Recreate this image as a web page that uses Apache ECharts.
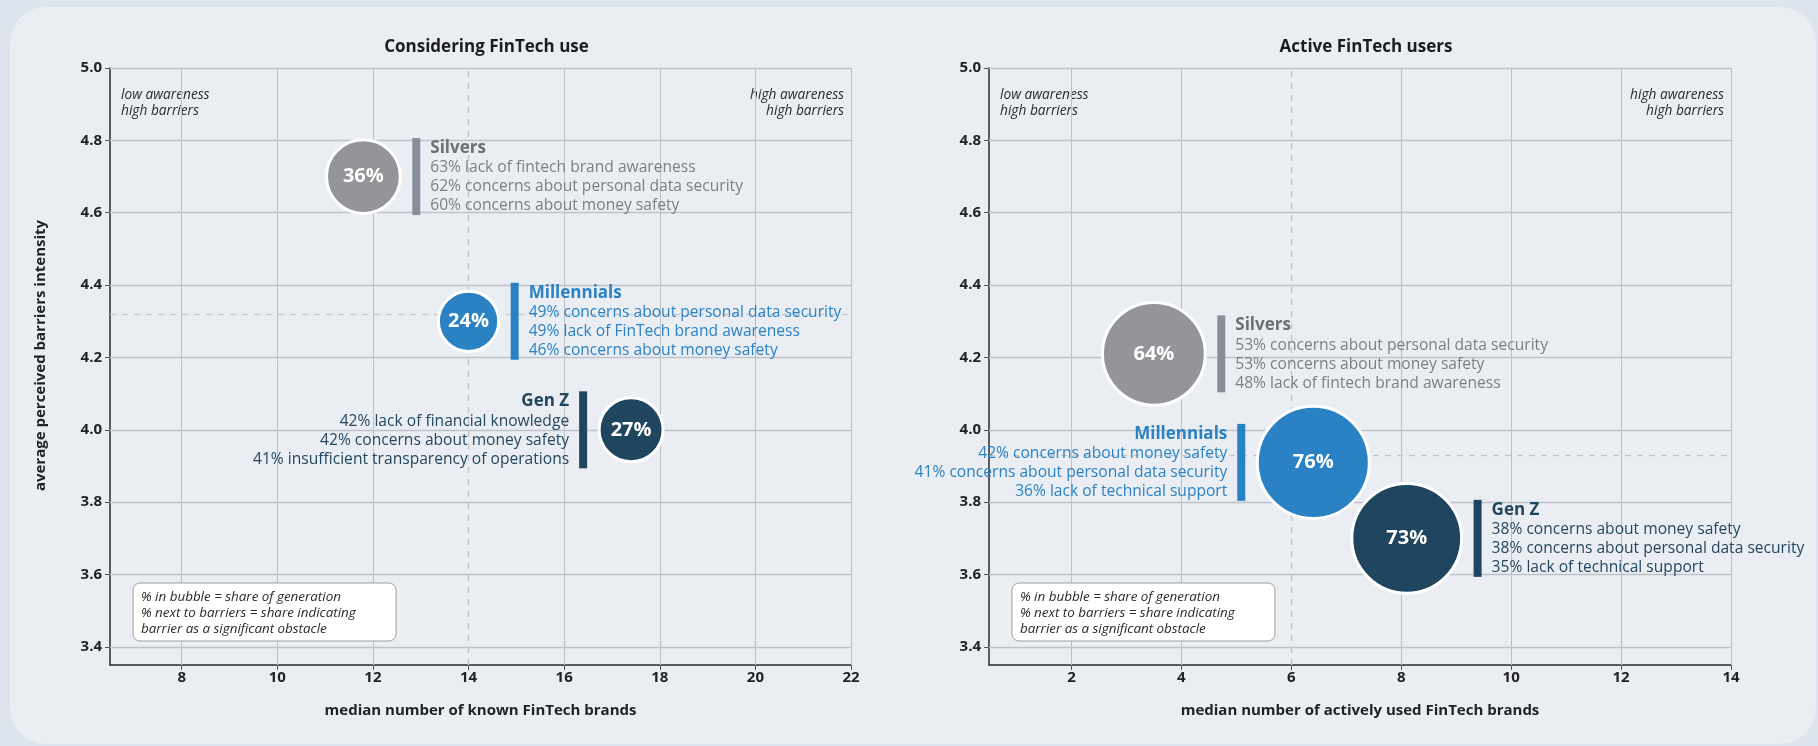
<!DOCTYPE html>
<html>
<head>
<meta charset="utf-8">
<title>FinTech barriers by generation</title>
<script src="https://cdn.jsdelivr.net/npm/echarts@6/dist/echarts.min.js"></script>
<style>
  html, body { margin: 0; padding: 0; }
  body { width: 1818px; height: 746px; overflow: hidden; position: relative; background: #dee4ed; }
  #panel { position: absolute; left: 10px; top: 7px; width: 1806px; height: 737px; border-radius: 36px; background: #eaeef3; }
  #chart { position: absolute; left: 0; top: 0; width: 1818px; height: 746px; }
</style>
</head>
<body>
<div id="panel"></div>
<div id="chart"></div>
<script>
// ---- data ---------------------------------------------------------------
const generations = ['Silvers', 'Millennials', 'Gen Z'];

// Considering FinTech use
const consideringBrands   = [11.8, 14.0, 17.4];   // median number of known brands
const consideringBarriers = [4.70, 4.30, 4.00];   // average perceived barrier intensity
const consideringShare    = [36, 24, 27];         // % of generation
const consideringAvgBrands = 14;
const consideringAvgBarriers = 4.32;
const consideringTopBarriers = [
  ['63% lack of fintech brand awareness', '62% concerns about personal data security', '60% concerns about money safety'],
  ['49% concerns about personal data security', '49% lack of FinTech brand awareness', '46% concerns about money safety'],
  ['42% lack of financial knowledge', '42% concerns about money safety', '41% insufficient transparency of operations']
];

// Active FinTech users
const activeBrands   = [3.5, 6.4, 8.1];           // median number of actively used brands
const activeBarriers = [4.21, 3.91, 3.70];
const activeShare    = [64, 76, 73];
const activeAvgBrands = 6;
const activeAvgBarriers = 3.93;
const activeTopBarriers = [
  ['53% concerns about personal data security', '53% concerns about money safety', '48% lack of fintech brand awareness'],
  ['42% concerns about money safety', '41% concerns about personal data security', '36% lack of technical support'],
  ['38% concerns about money safety', '38% concerns about personal data security', '35% lack of technical support']
];

// axis ticks
const yTicks = [3.4, 3.6, 3.8, 4.0, 4.2, 4.4, 4.6, 4.8, 5.0];
const consideringXTicks = [8, 10, 12, 14, 16, 18, 20, 22];
const activeXTicks = [2, 4, 6, 8, 10, 12, 14];

// ---- layout & style ------------------------------------------------------
const FONT = '"Open Sans", "Noto Sans", sans-serif';
const GRIDS = [
  { left: 110, top: 68, width: 741, height: 597 },
  { left: 989, top: 68, width: 742, height: 597 }
];
const Y_RANGE = [3.35, 5.0];
const X_RANGES = [[6.5, 22], [0.5, 14]];
const BUBBLE_SCALE = [12.3, 12.85];          // diameter per sqrt(share)
const LABEL_SIDES = [['right', 'right', 'left'], ['right', 'left', 'right']];

const bubbleColors = ['#949599', '#2a82c5', '#1f455f'];
const barColors    = ['#868f99', '#2a82c5', '#1f455f'];
const headColors   = ['#6d6f73', '#2a82c5', '#1f455f'];
const lineColors   = ['#7c7e82', '#2a82c5', '#24485f'];

const GRID_LINE = '#bcc0c6';
const DASH_LINE = '#c3c7cd';

function gridLineSeries(idx, xTicks, avgX, avgY) {
  const xr = X_RANGES[idx];
  const data = [];
  xTicks.filter(t => t !== avgX).forEach(t => {
    data.push([{ coord: [t, Y_RANGE[0]] }, { coord: [t, Y_RANGE[1]] }]);
  });
  yTicks.forEach(t => {
    data.push([{ coord: [xr[0], t], lineStyle: { width: 1.4, color: '#bfc3c9' } }, { coord: [xr[1], t] }]);
  });
  const dashed = { color: DASH_LINE, width: 1.4, type: [6, 6] };
  data.push([{ coord: [avgX, Y_RANGE[0]], lineStyle: dashed }, { coord: [avgX, Y_RANGE[1]] }]);
  data.push([{ coord: [xr[0], avgY], lineStyle: dashed }, { coord: [xr[1], avgY] }]);
  return {
    type: 'line', xAxisIndex: idx, yAxisIndex: idx, data: [], silent: true, z: 1,
    markLine: {
      z: 1, silent: true, symbol: ['none', 'none'], label: { show: false },
      lineStyle: { color: GRID_LINE, width: 1, type: 'solid' },
      emphasis: { disabled: true },
      data
    }
  };
}

function bubbleSeries(idx, brands, barriers, shares) {
  const k = BUBBLE_SCALE[idx];
  return {
    type: 'scatter', xAxisIndex: idx, yAxisIndex: idx, z: 4,
    data: brands.map((b, i) => ({
      value: [b, barriers[i], shares[i]],
      itemStyle: { color: bubbleColors[i], opacity: 1 }
    })),
    symbolSize: v => k * Math.sqrt(v[2]),
    itemStyle: { borderColor: '#ffffff', borderWidth: 3, opacity: 1 },
    label: {
      show: true, position: 'inside', formatter: p => p.value[2] + '%',
      color: '#ffffff', fontSize: 20, fontWeight: 'bold', fontFamily: FONT
    },
    emphasis: { disabled: true }
  };
}

function annotationSeries(idx, brands, barriers, shares, texts) {
  const k = BUBBLE_SCALE[idx];
  const sides = LABEL_SIDES[idx];
  return {
    type: 'custom', xAxisIndex: idx, yAxisIndex: idx, z: 5, silent: true,
    data: brands.map((b, i) => [b, barriers[i], shares[i], i]),
    renderItem(params, api) {
      const i = api.value(3);
      const c = api.coord([api.value(0), api.value(1)]);
      const r = k * Math.sqrt(api.value(2)) / 2;
      const side = sides[i];
      const barW = 8, barH = 77, gap = 12;
      const barX = side === 'right' ? c[0] + r + gap : c[0] - r - gap - barW;
      const barY = c[1] - barH / 2;
      const tx = side === 'right' ? barX + barW + 10 : barX - 10;
      const align = side === 'right' ? 'left' : 'right';
      const children = [
        { type: 'rect', shape: { x: barX, y: barY, width: barW, height: barH }, style: { fill: barColors[i] } },
        { type: 'text', style: {
            x: tx, y: barY + 10, text: generations[i], textAlign: align, textVerticalAlign: 'middle',
            fontFamily: FONT, fontSize: 17, fontWeight: 'bold', fill: headColors[i] } }
      ];
      texts[i].forEach((t, j) => {
        children.push({ type: 'text', style: {
          x: tx, y: barY + 30 + 19 * j, text: t, textAlign: align, textVerticalAlign: 'middle',
          fontFamily: FONT, fontSize: 15.6, fill: lineColors[i] } });
      });
      return { type: 'group', children };
    }
  };
}

function xAxis(idx, ticks, name) {
  return {
    type: 'value', gridIndex: idx, min: X_RANGES[idx][0], max: X_RANGES[idx][1],
    name, nameLocation: 'middle', nameGap: 38,
    nameTextStyle: { fontFamily: FONT, fontSize: 15, fontWeight: 'bold', color: '#222' },
    axisLine: { show: true, lineStyle: { color: '#2b2b2b', width: 1.5 } },
    axisTick: { show: true, length: 5, customValues: ticks, lineStyle: { color: '#555' } },
    axisLabel: { customValues: ticks, margin: 5, fontFamily: FONT, fontSize: 15, fontWeight: 'bold', color: '#222' },
    splitLine: { show: false }
  };
}

function yAxis(idx, name) {
  return {
    type: 'value', gridIndex: idx, min: Y_RANGE[0], max: Y_RANGE[1],
    name: name || '', nameLocation: 'middle', nameGap: 62,
    nameTextStyle: { fontFamily: FONT, fontSize: 15, fontWeight: 'bold', color: '#222', padding: [0, 0, 0, 22] },
    axisLine: { show: true, lineStyle: { color: '#2b2b2b', width: 1.5 } },
    axisTick: { show: true, length: 5, customValues: yTicks, lineStyle: { color: '#555' } },
    axisLabel: { customValues: yTicks, margin: 8, formatter: v => v.toFixed(1),
                 fontFamily: FONT, fontSize: 15, fontWeight: 'bold', color: '#222' },
    splitLine: { show: false }
  };
}

// headings, quadrant hints and the reading key, placed relative to each grid
const chartTitles = ['Considering FinTech use', 'Active FinTech users'];
const graphics = [];
GRIDS.forEach((g, idx) => {
  graphics.push({ type: 'text', silent: true, style: {
    x: g.left + g.width / 2 + 6, y: 47, text: chartTitles[idx], textAlign: 'center', textVerticalAlign: 'middle',
    fontFamily: FONT, fontSize: 17, fontWeight: 'bold', fill: '#1c1c1c' } });
  graphics.push({ type: 'text', silent: true, style: {
    x: g.left + 11, y: 87, text: 'low awareness\nhigh barriers', textAlign: 'left', textVerticalAlign: 'top',
    lineHeight: 16, fontFamily: FONT, fontSize: 13.7, fontStyle: 'italic', fill: '#2a2a2a' } });
  graphics.push({ type: 'text', silent: true, style: {
    x: g.left + g.width - 7, y: 87, text: 'high awareness\nhigh barriers', textAlign: 'right', textVerticalAlign: 'top',
    lineHeight: 16, fontFamily: FONT, fontSize: 13.7, fontStyle: 'italic', fill: '#2a2a2a' } });
  graphics.push({ type: 'rect', silent: true, z: 10,
    shape: { x: g.left + 23, y: 583, width: 263, height: 58, r: 7 },
    style: { fill: '#ffffff', stroke: '#9a9c9f', lineWidth: 1 } });
  graphics.push({ type: 'text', silent: true, z: 11, style: {
    x: g.left + 31, y: 589,
    text: '% in bubble = share of generation\n% next to barriers = share indicating\nbarrier as a significant obstacle',
    textAlign: 'left', textVerticalAlign: 'top', lineHeight: 16,
    fontFamily: FONT, fontSize: 13.4, fontStyle: 'italic', fill: '#2a2a2a' } });
});

const chart = echarts.init(document.getElementById('chart'), null, { renderer: 'canvas' });
chart.setOption({
  animation: false,
  backgroundColor: 'transparent',
  textStyle: { fontFamily: FONT },
  grid: GRIDS.map(g => Object.assign({ containLabel: false }, g)),
  xAxis: [
    xAxis(0, consideringXTicks, 'median number of known FinTech brands'),
    xAxis(1, activeXTicks, 'median number of actively used FinTech brands')
  ],
  yAxis: [yAxis(0, 'average perceived barriers intensity'), yAxis(1)],
  graphic: graphics,
  series: [
    gridLineSeries(0, consideringXTicks, consideringAvgBrands, consideringAvgBarriers),
    gridLineSeries(1, activeXTicks, activeAvgBrands, activeAvgBarriers),
    bubbleSeries(0, consideringBrands, consideringBarriers, consideringShare),
    bubbleSeries(1, activeBrands, activeBarriers, activeShare),
    annotationSeries(0, consideringBrands, consideringBarriers, consideringShare, consideringTopBarriers),
    annotationSeries(1, activeBrands, activeBarriers, activeShare, activeTopBarriers)
  ]
});
</script>
</body>
</html>
